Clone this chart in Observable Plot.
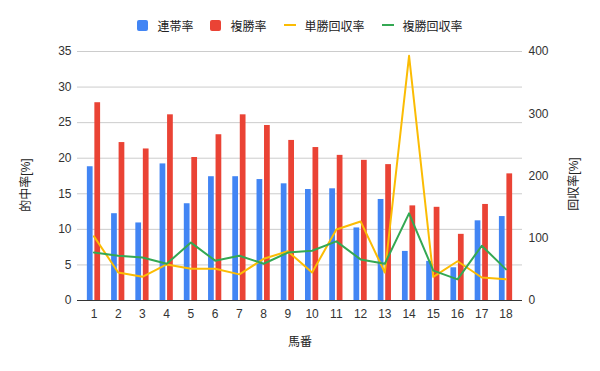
<!DOCTYPE html>
<html><head><meta charset="utf-8">
<script src="https://cdn.jsdelivr.net/npm/d3@7"></script>
<script src="https://cdn.jsdelivr.net/npm/@observablehq/plot@0.6"></script>
<style>
body{margin:0;background:#fff;font-family:"Liberation Sans",Arial,"Noto Sans CJK JP",sans-serif;}
#legend{height:18px;padding-top:16px;padding-bottom:6px;display:flex;justify-content:center;align-items:center;font-size:12px;color:#222;}
.item{display:flex;align-items:center;margin:0 8.5px;}
.sw{width:11px;height:11px;border-radius:2px;margin-right:9px}
.ln{width:12px;height:2px;margin-right:9px}
</style></head><body>
<div id="legend"></div>
<div id="chart"></div>
<script>
const horses = ["1","2","3","4","5","6","7","8","9","10","11","12","13","14","15","16","17","18"];
const rentai = [18.8,12.2,10.9,19.2,13.6,17.4,17.4,17.0,16.4,15.6,15.7,10.2,14.2,6.9,5.5,4.6,11.2,11.8];
const fukusho = [27.8,22.2,21.3,26.1,20.1,23.3,26.1,24.6,22.5,21.5,20.4,19.7,19.1,13.3,13.1,9.3,13.5,17.8];
const tanshoRet = [103,45,38,58,51,51,42,67,79,45,114,127,45,393,38,63,37,34];
const fukushoRet = [77,72,69,59,93,64,72,59,77,80,95,66,59,140,48,34,88,50];
const leftTicks = [0,5,10,15,20,25,30,35];
const rightTicks = [0,100,200,300,400];
const seriesNames = ["連帯率","複勝率","単勝回収率","複勝回収率"];
const colors = ["#4285F4","#EA4335","#FBBC04","#34A853"];

const k = 35/400;
const data = horses.map((n,i)=>({n, r: rentai[i], f: fukusho[i], t: tanshoRet[i], fr: fukushoRet[i]}));

const legend = document.getElementById("legend");
seriesNames.forEach((s,i)=>{
  const it = document.createElement("div"); it.className="item";
  const sw = document.createElement("div"); sw.className = i<2 ? "sw" : "ln"; sw.style.background = colors[i];
  const tx = document.createElement("span"); tx.textContent = s;
  it.appendChild(sw); it.appendChild(tx); legend.appendChild(it);
});

const font = '"Liberation Sans",Arial,"Noto Sans CJK JP",sans-serif';
const chart = Plot.plot({
  width:600, height:331, marginLeft:77, marginRight:78, marginTop:11, marginBottom:71,
  style:{fontFamily:font, fontSize:"12px", color:"#333", background:"#fff", overflow:"visible"},
  x:{type:"band", domain:horses, paddingInner:0, paddingOuter:0.18, round:false},
  y:{domain:[0,35]},
  marks:[
    Plot.gridY(leftTicks, {stroke:"#cccccc", strokeOpacity:1}),
    Plot.axisY(leftTicks, {anchor:"left", tickSize:0, tickPadding:6, label:null, fill:"#333"}),
    Plot.axisY(rightTicks.map(v=>v*k), {anchor:"right", tickSize:0, tickPadding:6, tickFormat:d=>String(Math.round(d/k)), label:null, fill:"#333"}),
    Plot.axisX({tickSize:0, tickPadding:9, label:null, fill:"#333"}),
    Plot.barY(data,{x:"n", y:"r", fill:colors[0], insetLeft:5.5, insetRight:13}),
    Plot.barY(data,{x:"n", y:"f", fill:colors[1], insetLeft:13, insetRight:5.5}),
    Plot.ruleY([0],{stroke:"#333"}),
    Plot.lineY(data,{x:"n", y:d=>d.t*k, stroke:colors[2], strokeWidth:2}),
    Plot.lineY(data,{x:"n", y:d=>d.fr*k, stroke:colors[3], strokeWidth:2}),
    Plot.text(["的中率[%]"], {text:d=>d, frameAnchor:"left", textAnchor:"middle", rotate:-90, dx:-51, dy:9, fill:"#222", fontSize:12}),
    Plot.text(["回収率[%]"], {text:d=>d, frameAnchor:"right", textAnchor:"middle", rotate:-90, dx:52, dy:8, fill:"#222", fontSize:12}),
    Plot.text(["馬番"], {text:d=>d, frameAnchor:"bottom", dy:45, fill:"#222", fontSize:12})
  ]
});
document.getElementById("chart").appendChild(chart);
</script>
</body></html>
